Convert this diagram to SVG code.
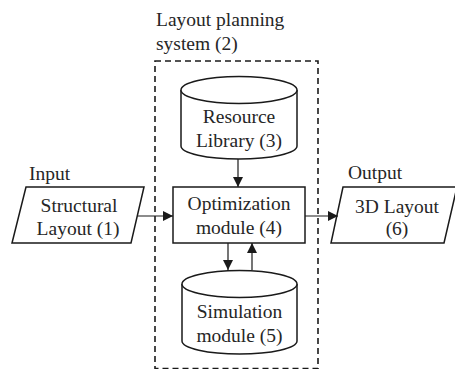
<svg xmlns="http://www.w3.org/2000/svg" width="455" height="369" viewBox="0 0 455 369">
  <style>
    .shape { fill: #ffffff; stroke: #1a1a1a; stroke-width: 1.5; }
    .frame { fill: none; stroke: #1a1a1a; stroke-width: 1.6; stroke-dasharray: 6 4; }
    .label { font-family: "Liberation Serif", "Times New Roman", serif; font-size: 19.5px; fill: #262626; }
    .mid { text-anchor: middle; }
    .link { fill: none; stroke: #1a1a1a; stroke-width: 1.2; marker-end: url(#arrow); }
  </style>
  <defs>
    <marker id="arrow" viewBox="0 0 10 10" refX="10" refY="5" markerWidth="10" markerHeight="10" markerUnits="userSpaceOnUse" orient="auto">
      <path d="M0,0 L10,5 L0,10 Z" fill="#1a1a1a"/>
    </marker>
  </defs>

  <!-- Layout planning system boundary -->
  <g id="system">
    <rect class="frame" x="155" y="61" width="163" height="307.5"/>
    <text class="label" x="156" y="26">Layout planning</text>
    <text class="label" x="156" y="50">system (2)</text>
  </g>

  <!-- Input: structural layout -->
  <g id="input">
    <text class="label" x="29" y="180">Input</text>
    <polygon class="shape" points="26,187 144,187 131,243 12,243"/>
    <text class="label mid" x="79" y="212">Structural</text>
    <text class="label mid" x="78" y="235">Layout (1)</text>
  </g>

  <!-- Resource library store -->
  <g id="resource">
    <path class="shape" d="M181,90 L181,146 A58,13 0 0 0 297,146 L297,90"/>
    <ellipse class="shape" cx="239" cy="90" rx="58" ry="13.5"/>
    <text class="label mid" x="239" y="123">Resource</text>
    <text class="label mid" x="239" y="147">Library (3)</text>
  </g>

  <!-- Optimization module -->
  <g id="optimization">
    <rect class="shape" x="173" y="187" width="132" height="56"/>
    <text class="label mid" x="239" y="210">Optimization</text>
    <text class="label mid" x="239" y="234">module (4)</text>
  </g>

  <!-- Simulation module store -->
  <g id="simulation">
    <path class="shape" d="M182,284 L182,341 A57.5,13 0 0 0 297,341 L297,284"/>
    <ellipse class="shape" cx="239.5" cy="284" rx="57.5" ry="13.5"/>
    <text class="label mid" x="239.5" y="318">Simulation</text>
    <text class="label mid" x="239.5" y="342">module (5)</text>
  </g>

  <!-- Output: 3D layout -->
  <g id="output">
    <text class="label" x="348" y="179">Output</text>
    <polygon class="shape" points="343,187 457,187 444,243 331,243"/>
    <text class="label mid" x="397" y="213">3D Layout</text>
    <text class="label mid" x="397" y="235">(6)</text>
  </g>

  <!-- Connectors -->
  <g id="connectors">
    <line class="link" x1="138" y1="216" x2="173" y2="216"/>
    <line class="link" x1="238" y1="159" x2="238" y2="187"/>
    <line class="link" x1="228" y1="243" x2="228" y2="270"/>
    <line class="link" x1="252" y1="270" x2="252" y2="243"/>
    <line class="link" x1="305" y1="216" x2="338" y2="216"/>
  </g>
</svg>
